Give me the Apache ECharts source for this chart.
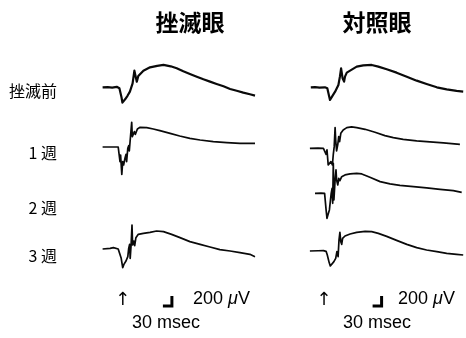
<!DOCTYPE html>
<html><head><meta charset="utf-8">
<script src="https://cdn.jsdelivr.net/npm/echarts@6/dist/echarts.min.js"></script>
<style>html,body{margin:0;padding:0;background:#fff}#c{width:466px;height:338px}</style>
</head><body><div id="c"></div>
<script>
// ---- data (time in msec from stimulus, amplitude in µV) ----
const colTitles = ['挫滅眼', '対照眼'];
const rowLabels = ['挫滅前', '1 週', '2 週', '3 週'];
const scaleBarMs = 30;
const scaleBarUv = 200;

const crushPreT = [-67,-50,-35,-20,-11,-4,-1,3,8,16,24,33,39,43,47,52,69,91,115,136,160,180,202,224,247,269,291,313,336,358,380,402,424,441];
const crushPreV = [0,5,-5,10,-20,-200,-307,-280,-240,-170,-87,80,333,333,113,227,333,400,430,447,420,380,320,267,213,160,113,67,20,-33,-70,-107,-140,-167];

const crushW1T = [-67,-40,-15,-11,-9,-7,-3,0,3,8,11,13,17,20,22,25,28,30,32,36,39,42,49,58,80,102,124,158,190,224,258,302,347,391,441];
const crushW1V = [0,0,0,13,-293,-160,-547,-293,-360,-213,-147,-293,-27,27,-80,140,107,493,207,187,307,253,360,393,387,360,327,273,220,173,140,107,87,73,73];

const crushW2T = [];
const crushW2V = [];

const crushW3T = [-67,-42,-31,-15,-9,-5,0,4,11,17,20,23,25,28,31,33,37,40,44,52,69,91,113,136,163,191,224,258,291,324,358,391,424,441];
const crushW3V = [0,13,27,0,-27,-187,-373,-307,-240,-153,13,93,-187,80,480,80,160,67,227,293,313,333,360,347,293,227,147,93,40,-13,-40,-73,-107,-153];

const ctrlPreT = [-44,-30,-15,3,11,20,26,37,42,48,53,57,60,62,67,70,76,87,109,131,159,181,209,242,276,309,342,376,409,442,464];
const ctrlPreV = [0,5,-5,0,-20,-253,-220,-87,-53,47,213,380,347,180,113,213,293,333,413,440,447,413,360,293,213,133,67,0,-40,-73,-87];

const ctrlW1T = [-47,-20,-2,3,7,10,14,19,23,28,31,34,37,39,42,46,49,52,56,64,76,92,109,137,170,203,231,264,309,353,398,453];
const ctrlW1V = [0,5,0,-13,-120,-33,-333,-367,-267,-333,-120,33,413,167,-53,80,233,133,300,367,413,427,413,380,320,253,213,180,147,127,107,80];

const ctrlW2T = [-30,-10,2,4,7,10,13,18,21,24,27,29,31,33,37,40,42,46,49,53,59,70,87,109,126,153,187,220,253,298,342,387,431,459];
const ctrlW2V = [0,3,0,-13,-333,-500,-433,-333,-167,0,100,-200,600,-133,267,467,267,167,300,253,333,367,387,400,387,320,233,187,160,133,107,80,53,20];

const ctrlW3T = [-47,-20,-2,7,11,17,21,27,33,39,43,47,50,53,56,59,62,70,87,109,137,159,181,209,242,276,309,342,376,409,442,464];
const ctrlW3V = [0,5,7,-7,-80,-227,-300,-267,-213,-147,-13,-113,220,373,187,133,253,300,340,373,393,387,353,293,213,133,67,20,-13,-47,-67,-80];

// ---- layout ----
const PX_PER_MS = 0.3, PX_PER_UV = 0.05;
const X_MIN = -70, X_MAX = 470, Y_HALF = 800;
const colStim = [122.7, 324];           // stimulus x position of each column
const rowY = [[87.3, 147, 0, 249], [87.3, 148.3, 193.3, 251]];
const traces = [
  [[crushPreT, crushPreV], [crushW1T, crushW1V], [crushW2T, crushW2V], [crushW3T, crushW3V]],
  [[ctrlPreT, ctrlPreV], [ctrlW1T, ctrlW1V], [ctrlW2T, ctrlW2V], [ctrlW3T, ctrlW3V]]
];
const barEndMs = [164, 192];

const grids = [], xAxes = [], yAxes = [], series = [];
function addGrid(left, top, w, h, ymin, ymax) {
  const i = grids.length;
  grids.push({left, top, width: w, height: h, containLabel: false});
  xAxes.push({type: 'value', gridIndex: i, min: X_MIN, max: X_MAX, show: false});
  yAxes.push({type: 'value', gridIndex: i, min: ymin, max: ymax, show: false});
  return i;
}
const gw = (X_MAX - X_MIN) * PX_PER_MS;
for (let c = 0; c < 2; c++) {
  const gl = colStim[c] + X_MIN * PX_PER_MS;
  for (let r = 0; r < 4; r++) {
    const [t, v] = traces[c][r];
    if (!t.length) continue;
    const gh = 2 * Y_HALF * PX_PER_UV;
    const gi = addGrid(gl, rowY[c][r] - gh / 2, gw, gh, -Y_HALF, Y_HALF);
    series.push({
      type: 'line', xAxisIndex: gi, yAxisIndex: gi, showSymbol: false, silent: true,
      data: t.map((x, i) => [x, v[i]]),
      lineStyle: {color: '#0a0a0a', width: r === 0 ? 2.2 : 1.7, join: 'round'}
    });
  }
  // scale bar grid
  const si = addGrid(gl, 291, gw, 20, -100, 300);
  series.push({
    type: 'line', xAxisIndex: si, yAxisIndex: si, showSymbol: false, silent: true,
    data: [[barEndMs[c] - scaleBarMs, 0], [barEndMs[c], 0], [barEndMs[c], scaleBarUv]],
    lineStyle: {color: '#000', width: 3, cap: 'butt', join: 'miter'}
  });
}

const CJK = '"Noto Sans CJK JP", "Noto Sans CJK SC", sans-serif';
const LAT = '"Liberation Sans", Arial, sans-serif';
const graphic = [];
const titleX = [190, 377];
colTitles.forEach((s, i) => graphic.push({type: 'text', x: titleX[i], y: 22,
  style: {text: s, font: 'bold 23px ' + CJK, fill: '#000', align: 'center', verticalAlign: 'middle'}}));
const labelY = [91, 153, 208, 256];
rowLabels.forEach((s, i) => graphic.push({type: 'text', x: 57, y: labelY[i],
  style: {text: s, font: '16px ' + CJK, fill: '#000', align: 'right', verticalAlign: 'middle'}}));
const uvX = [193, 398], msecX = [166, 377];
for (let c = 0; c < 2; c++) {
  graphic.push({type: 'text', x: colStim[c], y: 300,
    style: {text: '↑', font: '18px "DejaVu Sans", sans-serif', fill: '#000', align: 'center', verticalAlign: 'middle'}});
  graphic.push({type: 'text', x: uvX[c], y: 299,
    style: {text: '{a|' + scaleBarUv + ' }{m|μ}{a|V}', align: 'left', verticalAlign: 'middle',
      rich: {a: {font: '18px ' + LAT, fill: '#000'}, m: {font: 'italic 18px ' + LAT, fill: '#000'}}}});
  graphic.push({type: 'text', x: msecX[c], y: 323,
    style: {text: scaleBarMs + ' msec', font: '18px ' + LAT, fill: '#000', align: 'center', verticalAlign: 'middle'}});
}

const chart = echarts.init(document.getElementById('c'), null, {renderer: 'canvas'});
chart.setOption({animation: false, backgroundColor: '#fff', grid: grids, xAxis: xAxes, yAxis: yAxes, series, graphic});
</script></body></html>
